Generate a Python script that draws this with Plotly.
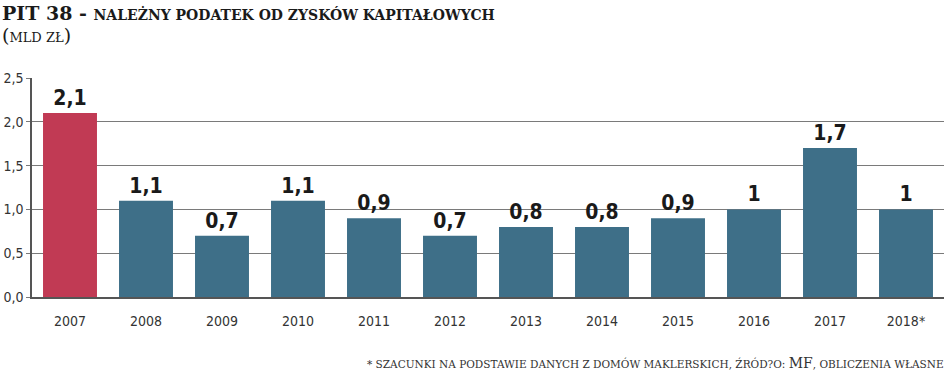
import plotly.graph_objects as go

years = ["2007", "2008", "2009", "2010", "2011", "2012", "2013", "2014", "2015", "2016", "2017", "2018*"]
values = [2.1, 1.1, 0.7, 1.1, 0.9, 0.7, 0.8, 0.8, 0.9, 1.0, 1.7, 1.0]
labels = ["2,1", "1,1", "0,7", "1,1", "0,9", "0,7", "0,8", "0,8", "0,9", "1", "1,7", "1"]
colors = ["#C13A54"] + ["#3E6F88"] * 11

fig = go.Figure(go.Bar(
    x=years, y=values, marker_color=colors, marker_line_width=0,
    width=0.71, text=labels, textposition="outside", cliponaxis=False,
    textfont=dict(family="DejaVu Sans Condensed, DejaVu Sans", size=21, color="#1a1a1a", weight="bold"),
))

fig.update_layout(
    width=948, height=375,
    margin=dict(l=32, r=4, t=78, b=78),
    plot_bgcolor="white", paper_bgcolor="white",
    separators=",.",
    showlegend=False,
    xaxis=dict(showline=True, linecolor="#555", linewidth=1.5, ticks="", ticklabelstandoff=10,
               tickfont=dict(family="DejaVu Sans Condensed, DejaVu Sans", size=14, color="#333")),
    yaxis=dict(range=[0, 2.5], dtick=0.5, tickformat=".1f", showgrid=True, gridcolor="#7a7a7a", gridwidth=1,
               showline=True, linecolor="#555", linewidth=1.5, ticks="outside", ticklen=4, tickcolor="#7a7a7a",
               zeroline=False,
               tickfont=dict(family="DejaVu Sans Condensed, DejaVu Sans", size=14, color="#333")),
    annotations=[
        dict(text="<span style='font-size:19px'>PIT 38 - </span>NALEŻNY PODATEK OD ZYSKÓW KAPITAŁOWYCH",
             x=0, y=1, xref="paper", yref="paper", xanchor="left", yanchor="top", showarrow=False,
             font=dict(family="DejaVu Serif", size=14, color="#1a1a1a", weight="bold"),
             xshift=-32, yshift=78),
        dict(text="<span style='font-size:19px'>(</span>MLD ZŁ<span style='font-size:19px'>)</span>",
             x=0, y=1, xref="paper", yref="paper", xanchor="left", yanchor="top", showarrow=False,
             font=dict(family="DejaVu Serif", size=13, color="#1a1a1a"),
             xshift=-32, yshift=56),
        dict(text="* SZACUNKI NA PODSTAWIE DANYCH Z DOMÓW MAKLERSKICH, ŹRÓD?O: <span style='font-size:14px'>MF</span>, OBLICZENIA WŁASNE",
             x=1, y=0, xref="paper", yref="paper", xanchor="right", yanchor="bottom", showarrow=False,
             font=dict(family="DejaVu Serif", size=10.5, color="#333"),
             xshift=2, yshift=-76),
    ],
)

fig.write_html("out.html", config={"displayModeBar": False},
               post_script="document.body.style.margin='0';")
